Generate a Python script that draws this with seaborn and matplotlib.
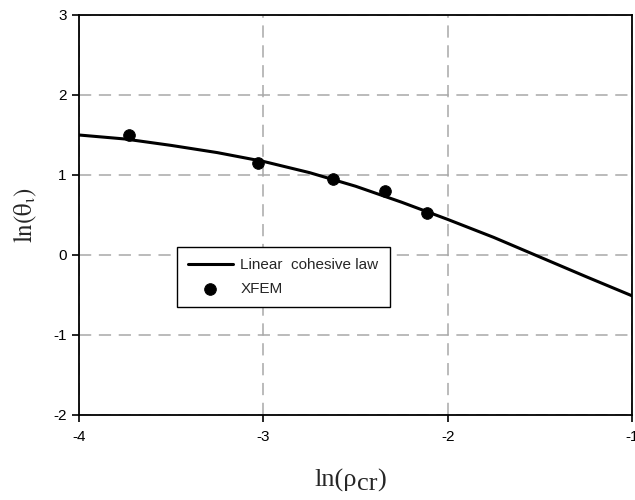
import matplotlib
matplotlib.use('Agg')
import matplotlib.pyplot as plt
from matplotlib.transforms import offset_copy
import seaborn as sns
import pandas as pd

# Data
curve_x = [-4.0, -3.75, -3.5, -3.25, -3.0, -2.75, -2.5, -2.25, -2.0, -1.75, -1.5, -1.25, -1.0]
curve_y = [1.50, 1.45, 1.37, 1.28, 1.17, 1.03, 0.86, 0.66, 0.445, 0.22, -0.025, -0.27, -0.51]

xfem_x = [-3.73, -3.03, -2.62, -2.34, -2.11]
xfem_y = [1.50, 1.15, 0.95, 0.80, 0.52]

x_ticks = [-4, -3, -2, -1]
y_ticks = [-2, -1, 0, 1, 2, 3]

curve = pd.DataFrame({'x': curve_x, 'y': curve_y})
xfem = pd.DataFrame({'x': xfem_x, 'y': xfem_y})

sns.set_style('ticks')
plt.rcParams['font.family'] = ['Liberation Sans', 'DejaVu Sans']
plt.rcParams['mathtext.fontset'] = 'stix'
plt.rcParams['axes.unicode_minus'] = False

fig = plt.figure(figsize=(6.35, 5.0), dpi=100)
ax = fig.add_axes([0.1244, 0.17, 0.8709, 0.80])

sns.lineplot(data=curve, x='x', y='y', ax=ax, color='black', linewidth=2.2,
             label='Linear  cohesive law', zorder=3)
sns.scatterplot(data=xfem, x='x', y='y', ax=ax, color='black', s=70,
                edgecolor='black', label='XFEM', zorder=4)

ax.set_xlim(-4, -1)
ax.set_ylim(-2, 3)
ax.set_xticks(x_ticks)
ax.set_yticks(y_ticks)
ax.tick_params(labelsize=11, length=5, width=1.2, direction='out', colors='black')
ax.tick_params(axis='x', pad=6)
ax.tick_params(axis='y', pad=4)

# dashed grey grid
ax.grid(True, color='#a8a8a8', linestyle=(0, (8, 5)), linewidth=1.1)
ax.set_axisbelow(True)

for side in ['top', 'right', 'left', 'bottom']:
    ax.spines[side].set_visible(True)
    ax.spines[side].set_color('black')
    ax.spines[side].set_linewidth(1.3)

ax.set_xlabel('')
ax.set_ylabel(r'$\mathrm{ln(\theta_\iota)}$', fontsize=18, labelpad=10)

# x label: "ln(ρ" + slightly lowered "cr" + ")"
serif = ['Liberation Serif', 'DejaVu Serif']
fig.canvas.draw()
renderer = fig.canvas.get_renderer()
x0 = 314 / 635
y0 = 1 - 487 / 500
t1 = fig.text(x0, y0, 'ln(ρ', fontsize=19, family=serif, va='baseline')
w1 = t1.get_window_extent(renderer).width
tr2 = offset_copy(fig.transFigure, fig=fig, x=w1, y=-2.5, units='dots')
t2 = fig.text(x0, y0, 'cr', fontsize=19, family=serif, va='baseline', transform=tr2)
w2 = t2.get_window_extent(renderer).width
tr3 = offset_copy(fig.transFigure, fig=fig, x=w1 + w2, y=0, units='dots')
fig.text(x0, y0, ')', fontsize=19, family=serif, va='baseline', transform=tr3)

leg = ax.legend(loc='upper left', bbox_to_anchor=(0.177, 0.42), borderaxespad=0,
                fontsize=11, frameon=True, fancybox=False, framealpha=1,
                edgecolor='black', borderpad=0.75, handlelength=2.9,
                handletextpad=0.5, labelspacing=0.6)
leg.get_frame().set_linewidth(1.0)

fig.savefig('out.png', dpi=100)
